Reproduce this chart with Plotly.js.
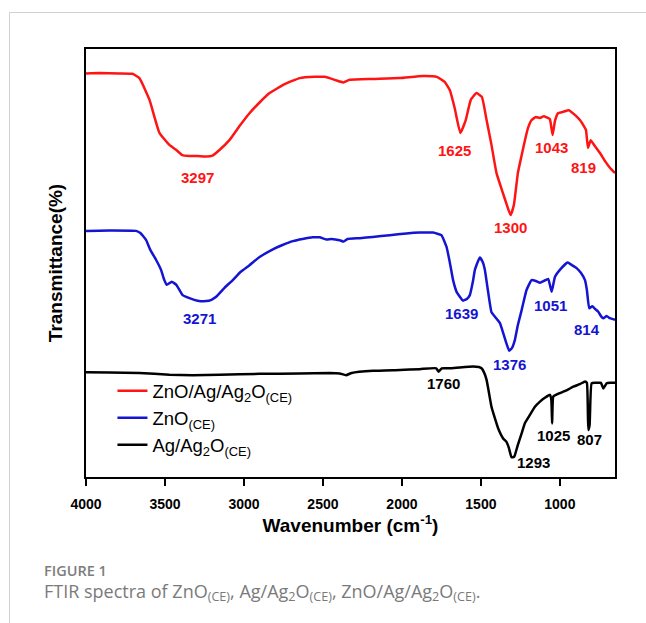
<!DOCTYPE html>
<html>
<head>
<meta charset="utf-8">
<script src="https://cdn.plot.ly/plotly-3.0.1.min.js"></script>
<style>
  html, body { margin: 0; padding: 0; background: #fff; }
  #frame { position: absolute; left: 9px; top: 12px; width: 637px; height: 611px;
           border-top: 1.5px solid #d2d2d2; border-left: 1.5px solid #d2d2d2; box-sizing: border-box; }
  #chart { position: absolute; left: 0; top: 0; width: 646px; height: 623px; }
</style>
</head>
<body>
<div id="frame"></div>
<div id="chart"></div>
<script>
// ---- Data (wavenumber in cm^-1, transmittance in arbitrary offset %) ----
const redWn = [4000,3916,3789,3706,3662,3598,3535,3472,3428,3390,3345,3294,3244,3199,3155,3092,3028,2965,2901,2838,2742,2647,2552,2489,2426,2394,2369,2331,2185,2014,1868,1779,1729,1697,1666,1630,1596,1564,1528,1494,1464,1433,1401,1361,1336,1312,1291,1266,1242,1221,1202,1179,1152,1126,1101,1076,1063,1046,1031,1012,981,943,905,873,848,835,822,805,778,746,714,682,651];
const redT  = [94.3,94.4,94.3,94.2,93.2,88.1,80.4,77.6,76.4,75.2,75.0,75.0,74.9,75.1,76.4,78.7,82.0,85.0,87.5,89.7,91.8,93.2,93.5,93.5,92.8,92.4,92.2,92.8,93.0,93.2,93.7,93.5,92.3,90.4,86.2,80.4,83.4,88.1,89.7,88.8,83.4,77.6,71.0,66.4,63.6,61.2,63.6,71.0,75.2,78.7,81.5,83.4,84.1,83.9,84.3,83.9,83.6,79.9,83.2,85.0,85.3,85.7,84.6,83.4,82.0,81.1,76.9,78.7,77.3,75.7,73.8,72.2,71.0];

const blueWn = [4000,3852,3683,3656,3620,3592,3556,3525,3504,3489,3457,3428,3388,3345,3294,3239,3206,3176,3123,3071,3022,2965,2901,2817,2756,2690,2629,2564,2521,2479,2445,2394,2369,2344,2267,2185,2077,1972,1887,1803,1750,1718,1697,1676,1653,1613,1589,1570,1551,1538,1507,1488,1475,1456,1433,1412,1380,1355,1321,1304,1285,1266,1242,1211,1179,1152,1126,1101,1074,1052,1031,1000,951,924,894,867,841,829,814,795,778,757,740,725,704,683,651];
const blueT  = [57.5,57.6,57.5,57.0,55.4,53.0,50.7,48.4,46.0,44.9,45.6,44.9,42.5,41.8,41.2,41.1,41.4,42.1,44.2,46.0,47.9,49.5,51.4,53.2,54.2,55.1,55.6,56.0,56.0,55.5,55.6,55.3,55.0,55.6,55.8,56.1,56.5,56.9,57.1,57.1,56.5,53.8,50.2,46.0,43.2,41.2,41.6,42.5,45.6,48.4,51.3,50.2,48.4,43.7,38.5,37.5,36.0,33.2,29.5,30.1,32.0,35.5,39.0,43.7,46.0,45.8,45.4,45.8,46.3,43.3,46.8,48.4,50.1,49.5,48.8,47.7,46.0,43.7,39.4,39.9,39.3,38.6,37.6,37.1,37.6,37.1,36.7];

const blackWn = [4000,3852,3662,3472,3326,3155,2901,2648,2458,2394,2354,2318,2183,2014,1887,1783,1767,1748,1697,1634,1549,1513,1496,1481,1464,1450,1433,1412,1391,1359,1338,1323,1306,1291,1285,1266,1242,1221,1190,1158,1126,1095,1063,1054,1049,1042,1025,1000,955,915,873,841,829,820,812,799,778,757,740,725,704,683,651];
const blackT  = [24.5,24.4,24.3,23.9,23.8,23.9,24.1,24.2,24.3,24.2,23.8,24.3,24.8,25.0,25.2,25.4,24.6,25.4,25.4,25.6,25.8,25.7,25.4,24.5,22.7,19.9,16.4,13.8,11.4,9.0,8.2,6.8,4.6,4.7,5.1,7.5,10.2,12.6,14.5,16.4,17.6,18.5,19.2,18.0,12.5,18.8,19.2,19.6,20.3,21.1,21.7,22.3,22.0,11.0,12.1,21.9,22.0,22.0,22.0,20.7,21.9,22.0,22.0];

const seriesNames = ['ZnO/Ag/Ag<sub>2</sub>O<sub>(CE)</sub>', 'ZnO<sub>(CE)</sub>', 'Ag/Ag<sub>2</sub>O<sub>(CE)</sub>'];
const seriesColors = ['#ff1414', '#1414d2', '#000000'];

const redLabels = ['3297','1625','1300','1043','819'];
const redLabelWn = [3293,1665,1312,1050,848];
const redLabelT = [69.9,76.4,58.4,77.1,72.2];
const blueLabels = ['3271','1639','1376','1051','814'];
const blueLabelWn = [3281,1623,1317,1057,831];
const blueLabelT = [37.1,38.1,26.4,40.0,34.5];
const blackLabels = ['1760','1293','1025','807'];
const blackLabelWn = [1735,1169,1042,810];
const blackLabelT = [21.9,3.3,9.6,8.8];

const xTicks = [4000,3500,3000,2500,2000,1500,1000];
const xTitle = '<b>Wavenumber (cm<sup>-1</sup>)</b>';
const yTitle = '<b>Transmittance(%)</b>';
const figLabel = 'FIGURE 1';
const captionText = 'FTIR spectra of ZnO<sub>(CE)</sub>, Ag/Ag<sub>2</sub>O<sub>(CE)</sub>, ZnO/Ag/Ag<sub>2</sub>O<sub>(CE)</sub>.';

// ---- Build chart ----
const F = 'Arial, "Liberation Sans", sans-serif';
const xs = [redWn, blueWn, blackWn];
const ys = [redT, blueT, blackT];
const traces = xs.map((x, i) => ({
  type: 'scatter', mode: 'lines', x: x, y: ys[i], name: seriesNames[i],
  legendgroup: 'g' + i,
  line: { color: seriesColors[i], width: 2.5, shape: 'spline', smoothing: 0.4 }
}));

function labelAnns(texts, xv, yv, color) {
  return texts.map((t, i) => ({
    x: xv[i], y: yv[i], xref: 'x', yref: 'y', text: '<b>' + t + '</b>', showarrow: false,
    font: { family: F, size: 15, color: color }, xanchor: 'center', yanchor: 'middle'
  }));
}
const annotations = [].concat(
  labelAnns(redLabels, redLabelWn, redLabelT, seriesColors[0]),
  labelAnns(blueLabels, blueLabelWn, blueLabelT, seriesColors[1]),
  labelAnns(blackLabels, blackLabelWn, blackLabelT, seriesColors[2]),
  [
    { xref: 'paper', yref: 'paper', x: -0.0835, y: -0.2175, xanchor: 'left', yanchor: 'middle',
      text: figLabel, showarrow: false, height: 16,
      font: { family: '"Open Sans", sans-serif', size: 14.5, color: '#7d7d7d', weight: 600 } },
    { xref: 'paper', yref: 'paper', x: -0.0835, y: -0.268, xanchor: 'left', yanchor: 'middle',
      text: captionText, showarrow: false, height: 22,
      font: { family: '"Open Sans", sans-serif', size: 18, color: '#7a7a7a' } }
  ]
);

const layout = {
  width: 646, height: 623,
  margin: { l: 86, r: 31, t: 49, b: 146 },
  paper_bgcolor: 'rgba(0,0,0,0)', plot_bgcolor: 'rgba(0,0,0,0)',
  showlegend: true,
  legend: {
    x: 0.05, y: 0.245, xanchor: 'left', yanchor: 'top',
    bgcolor: 'rgba(0,0,0,0)', borderwidth: 0, tracegroupgap: 0,
    font: { family: F, size: 18.5, color: '#000' }
  },
  xaxis: {
    range: [4000, 651], tickvals: xTicks, ticktext: xTicks.map(String),
    ticks: 'outside', ticklen: 7, tickwidth: 2, tickcolor: '#000', ticklabelstandoff: 6,
    showline: true, linewidth: 2, linecolor: '#000', mirror: true,
    showgrid: false, zeroline: false,
    tickfont: { family: F, size: 14, color: '#000', weight: 'bold' },
    title: { text: xTitle, font: { family: F, size: 19, color: '#000' }, standoff: 7 }
  },
  yaxis: {
    range: [0, 100], showticklabels: false, ticks: '',
    showline: true, linewidth: 2, linecolor: '#000', mirror: true,
    showgrid: false, zeroline: false,
    title: { text: yTitle, font: { family: F, size: 19, color: '#000' }, standoff: 16 }
  },
  annotations: annotations
};

Plotly.newPlot('chart', traces, layout, { displayModeBar: false, staticPlot: true });
</script>
</body>
</html>
